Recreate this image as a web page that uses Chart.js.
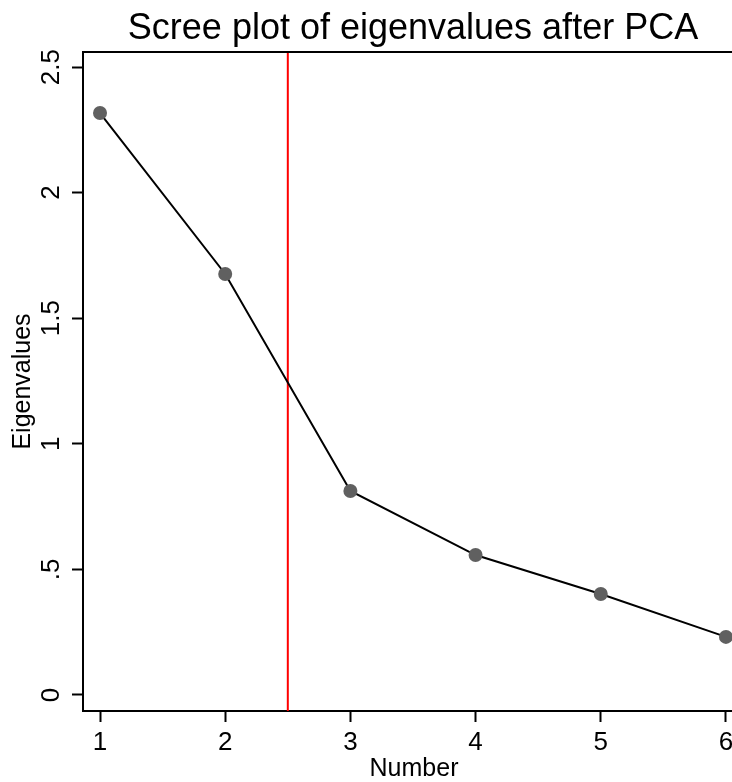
<!DOCTYPE html>
<html>
<head>
<meta charset="utf-8">
<title>Scree plot of eigenvalues after PCA</title>
<script src="https://cdn.jsdelivr.net/npm/chart.js@4/dist/chart.umd.min.js"></script>
<style>
  html, body { margin: 0; padding: 0; background: #fff; overflow: hidden; }
  /* the plot region runs a little past the right edge of the picture */
  #wrap { width: 745px; height: 782px; }
</style>
</head>
<body>
<div id="wrap"><canvas id="scree" width="745" height="782"></canvas></div>
<script>
// values
const components = [1, 2, 3, 4, 5, 6];
const eigenvalues = [2.317, 1.676, 0.812, 0.557, 0.402, 0.231];
const xTickValues = [1, 2, 3, 4, 5, 6];
const yTickValues = [0, 0.5, 1, 1.5, 2, 2.5];
const yTickLabels = ['0', '.5', '1', '1.5', '2', '2.5'];
const cutoff = 2.5;

const chartTitle = 'Scree plot of eigenvalues after PCA';
const fontFamily = '"Liberation Sans", Arial, Helvetica, sans-serif';

Chart.defaults.font.family = fontFamily;
Chart.defaults.color = '#000';

// red reference line plus the top border and title of the plot region
const cutoffLine = {
  id: 'cutoffLine',
  beforeDatasetsDraw(chart) {
    const { ctx, chartArea, scales } = chart;
    const x = scales.x.getPixelForValue(cutoff);
    ctx.save();
    ctx.strokeStyle = '#ff0000';
    ctx.lineWidth = 2;
    ctx.beginPath();
    ctx.moveTo(x, chartArea.top);
    ctx.lineTo(x, chartArea.bottom);
    ctx.stroke();
    ctx.restore();
  },
  afterDraw(chart) {
    const { ctx, chartArea } = chart;
    ctx.save();
    ctx.strokeStyle = '#000';
    ctx.lineWidth = 2;
    ctx.beginPath();
    ctx.moveTo(chartArea.left - 1, chartArea.top);
    ctx.lineTo(chartArea.right, chartArea.top);
    ctx.stroke();

    ctx.fillStyle = '#000';
    ctx.font = '36px ' + fontFamily;
    ctx.textAlign = 'center';
    ctx.textBaseline = 'alphabetic';
    ctx.fillText(chartTitle, (chartArea.left + chartArea.right) / 2 - 1, 39);
    ctx.restore();
  }
};

const points = components.map((c, i) => ({ x: c, y: eigenvalues[i] }));

const tickGrid = {
  display: true,
  drawOnChartArea: false,
  drawTicks: true,
  tickLength: 11,
  tickWidth: 2,
  color: '#000'
};

new Chart(document.getElementById('scree'), {
  type: 'line',
  data: {
    datasets: [{
      label: 'Eigenvalues',
      data: points,
      borderColor: '#000',
      borderWidth: 2,
      pointRadius: 7,
      pointBackgroundColor: '#606060',
      pointBorderWidth: 0,
      fill: false,
      tension: 0,
      clip: false
    }]
  },
  options: {
    responsive: false,
    animation: false,
    layout: { autoPadding: false, padding: { top: 52, left: 0, right: 0, bottom: 0 } },
    plugins: {
      legend: { display: false },
      tooltip: { enabled: false },
      title: { display: false }
    },
    scales: {
      x: {
        type: 'linear',
        min: 0.864,
        max: 6.152,
        afterBuildTicks: scale => {
          scale.ticks = xTickValues.map(v => ({ value: v }));
        },
        afterFit: scale => { scale.height = 71; },
        grid: tickGrid,
        border: { display: true, color: '#000', width: 2 },
        ticks: {
          autoSkip: false,
          maxRotation: 0,
          padding: 5,
          font: { size: 26 },
          color: '#000'
        },
        title: {
          display: true,
          text: 'Number',
          font: { size: 25, lineHeight: 1 },
          padding: { top: 0, bottom: 0 },
          color: '#000'
        }
      },
      y: {
        type: 'linear',
        min: -0.064,
        max: 2.56,
        afterBuildTicks: scale => {
          scale.ticks = yTickValues.map(v => ({ value: v }));
        },
        afterFit: scale => { scale.width = 83; },
        grid: tickGrid,
        border: { display: true, color: '#000', width: 2 },
        ticks: {
          autoSkip: false,
          minRotation: 90,
          maxRotation: 90,
          crossAlign: 'center',
          padding: 2,
          font: { size: 26 },
          color: '#000',
          callback: value => {
            const i = yTickValues.indexOf(value);
            return i >= 0 ? yTickLabels[i] : '';
          }
        },
        title: {
          display: true,
          text: 'Eigenvalues',
          font: { size: 25 },
          padding: { top: 8, bottom: 0 },
          color: '#000'
        }
      }
    }
  },
  plugins: [cutoffLine]
});
</script>
</body>
</html>
